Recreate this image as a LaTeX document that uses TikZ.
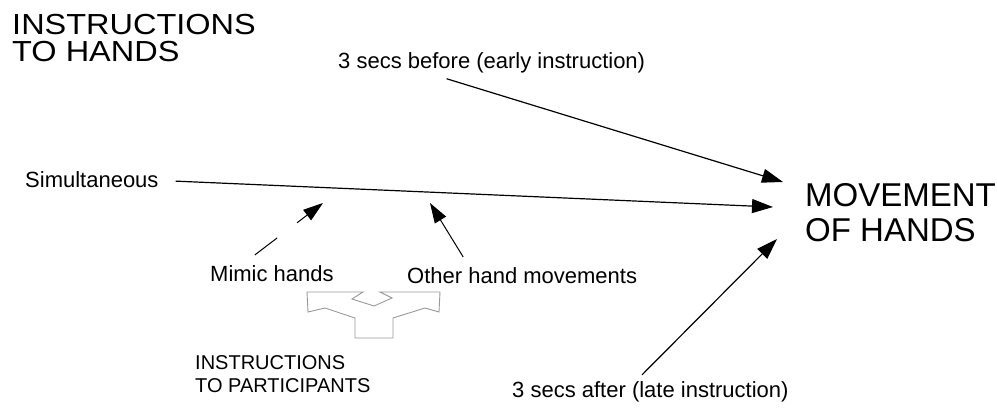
\documentclass[tikz,border=0pt]{standalone}
\usepackage{fontspec}
\setmainfont{Liberation Sans}
\usetikzlibrary{arrows.meta,positioning}

\begin{document}
\begin{tikzpicture}[
    x=1pt, y=-1pt,
    big/.style={inner sep=0pt, align=left, font=\fontsize{32}{28}\selectfont},
    lbl/.style={inner sep=0pt, font=\fontsize{22}{26}\selectfont},
    arr/.style={-{Triangle[length=21pt,width=14pt]}, line width=1.2pt},
    thinarr/.style={-{Triangle[length=20pt,width=13pt]}, line width=1pt},
    split/.style={draw=gray!80, line width=0.9pt},
  ]
    \useasboundingbox (0,0) rectangle (997,412);

    % headings
    \node[big, anchor=north west, font=\fontsize{29}{27}\selectfont, xscale=1.12, transform shape] (hands) at (12,14) {INSTRUCTIONS\\TO HANDS};
    \node[big, anchor=north west, font=\fontsize{33}{35}\selectfont] (move) at (805,183) {MOVEMENT\\OF HANDS};
    \node[big, anchor=north west, font=\fontsize{20}{23}\selectfont] (part) at (195,355) {INSTRUCTIONS\\TO PARTICIPANTS};

    % timing labels
    \node[lbl, anchor=base west] (before) at (338,69) {3 secs before (early instruction)};
    \node[lbl, anchor=base west] (simul) at (25,187) {Simultaneous};
    \node[lbl, anchor=base west] (after) at (512,397) {3 secs after (late instruction)};
    \node[lbl, anchor=base west] (mimic) at (210,281) {Mimic hands};
    \node[lbl, anchor=base west] (other) at (407,283) {Other hand movements};

    % arrow ends
    \coordinate (early) at (783,182);
    \coordinate (same) at (773,207);
    \coordinate (late) at (777,239);
    \coordinate (mimicend) at (323,203);
    \coordinate (otherend) at (430,203);

    \draw[arr] ([xshift=-45pt,yshift=-5pt]before.south) -- (early);
    \draw[arr] ([xshift=17pt,yshift=-2pt]simul.east) -- (same);
    \draw[arr] ([xshift=130pt,yshift=6pt]after.north west) -- (late);
    \draw[thinarr, dash pattern=on 28pt off 25pt on 200pt] ([xshift=-17pt,yshift=10pt]mimic.north) -- (mimicend);
    \draw[thinarr] ([xshift=-59pt,yshift=10pt]other.north) -- (otherend);

    % split symbol
    \draw[split] (307,292) -- (363,292) -- (352,299) -- (374,306) -- (392,298) -- (380,292)
      -- (440,292) -- (439,312) -- (425,308) -- (393,318) -- (393,338) -- (355,338)
      -- (355,318) -- (325,308) -- (308,312) -- cycle;
\end{tikzpicture}
\end{document}
